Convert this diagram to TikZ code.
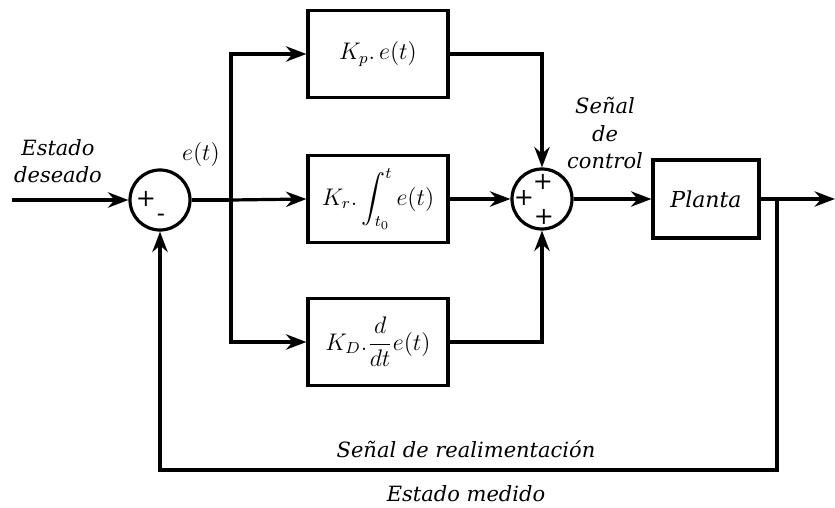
\documentclass[tikz,border=0pt]{standalone}
\usepackage{amsmath}
\usepackage{fontspec}
\newfontfamily\lblfont{DejaVu Serif}
\usepackage{tikz}
\usetikzlibrary{arrows.meta, positioning, calc}

\tikzset{
    block/.style={draw, line width=1.6pt, minimum width=70pt, minimum height=43.5pt, inner sep=2pt, font=\large},
    sumnode/.style={draw, circle, line width=1.6pt, minimum size=30pt, inner sep=0pt},
    sign/.style={font=\lblfont\large, inner sep=0pt},
    lbl/.style={font=\lblfont\itshape\fontsize{10.5}{13.8}\selectfont, align=center}
}

\begin{document}
\begin{tikzpicture}[x=0.5pt, y=-0.5pt, >=Stealth, line width=1.6pt]
    \useasboundingbox (0,0) rectangle (835,508);

    % summing junctions and blocks
    \node[sumnode] (sum1) at (160,200) {};
    \node[block] (kp) at (378,54) {$K_p.\,e(t)$};
    \node[block] (ki) at (378,199) {$K_r.\displaystyle\int_{t_0}^{t} e(t)$};
    \node[block] (kd) at (378,342) {$K_D.\dfrac{d}{dt}e(t)$};
    \node[sumnode] (sum2) at (542,199) {};
    \node[block, minimum width=53pt, minimum height=39pt] (planta) at (706,199) {\lblfont\itshape\fontsize{11}{13}\selectfont Planta};

    % signs
    \node[sign] (s1a) at (146,199) {+};
    \node[sign] (s1b) at (161,218) {-};
    \node[sign] (s2a) at (543,182) {+};
    \node[sign] (s2b) at (524,198) {+};
    \node[sign] (s2c) at (544,217) {+};

    % helper points
    \coordinate (in) at (12,200);
    \coordinate (split) at (231,200);
    \coordinate (tap) at (777,199);
    \coordinate (out) at (835,199);
    \coordinate (fbr) at (777,470);
    \coordinate (fbl) at (160,470);

    % connectors
    \draw[->] (in) -- (sum1.west);
    \draw (sum1.east) -- (split);
    \draw[->] (split) -- (ki.west);
    \draw[->] (split) |- (kp.west);
    \draw[->] (split) |- (kd.west);
    \draw[->] (ki.east) -- (sum2.west);
    \draw[->] (kp.east) -| (sum2.north);
    \draw[->] (kd.east) -| (sum2.south);
    \draw[->] (sum2.east) -- (planta.west);
    \draw[->] (planta.east) -- (out);
    \draw[->] (tap) -- (fbr) -- (fbl) -- (sum1.south);

    % labels
    \node[lbl] (setpoint) at (58,161) {Estado\\deseado};
    \node[font=\large] (err) at (201,155) {$e(t)$};
    \node[lbl] (ctrl) at (605,133) {Señal\\de\\control};
    \node[lbl] (fbtext) at (466,449) {Señal de realimentación};
    \node[lbl] (meas) at (466,494) {Estado medido};
\end{tikzpicture}
\end{document}
